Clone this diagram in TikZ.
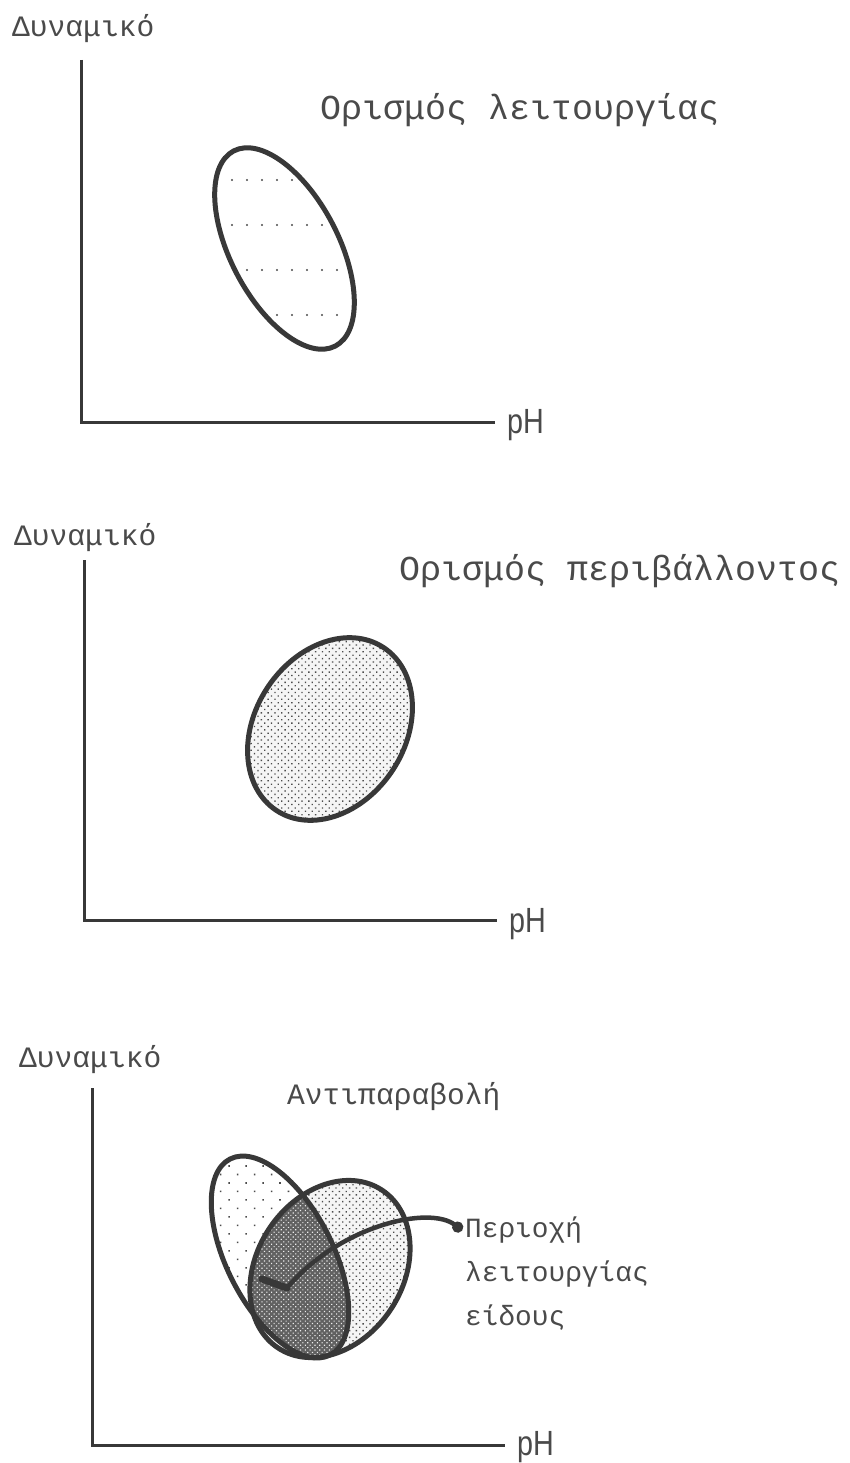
\documentclass[tikz,border=0pt]{standalone}
\usepackage{fontspec}
\newfontfamily\grfont{Liberation Mono}
\newfontfamily\phfont{Liberation Sans}
\usetikzlibrary{patterns.meta,arrows.meta}
\definecolor{ink}{HTML}{383838}
\definecolor{txt}{HTML}{4A4A4A}
\tikzset{
  axisline/.style={draw=ink, line width=3pt},
  outline/.style={draw=ink, line width=5pt},
  ylab/.style={anchor=base west, inner sep=0pt, text=txt, font=\grfont\fontsize{29.6}{32}\selectfont},
  ttl/.style={anchor=base west, inner sep=0pt, text=txt, font=\grfont\fontsize{35}{38}\selectfont},
  ttlsmall/.style={anchor=base west, inner sep=0pt, text=txt, font=\grfont\fontsize{29.6}{32}\selectfont},
  lab/.style={anchor=base west, inner sep=0pt, text=txt, font=\grfont\fontsize{27.8}{30}\selectfont},
  phlab/.style={anchor=base west, inner sep=0pt, text=txt, font=\phfont\fontsize{35}{38}\selectfont},
  densedots/.style={pattern={Dots[distance=4.8pt,radius=0.95pt,angle=45]}, pattern color=gray!60!black},
  sparsedots/.style={pattern={Dots[distance=12pt,radius=1.1pt,angle=45]}, pattern color=gray!60!black},
  darkdots/.style={pattern={Dots[distance=3.4pt,radius=0.8pt,angle=45]}, pattern color=white!85!gray},
  conn/.style={draw=ink, line width=4.5pt, line cap=round, line join=round},
}
\begin{document}
\begin{tikzpicture}[x=1pt,y=-1pt]
\useasboundingbox (0,0) rectangle (850,1463);
\fill[white] (0,0) rectangle (850,1463);

% ---------- Panel 1 ----------
\node[ylab] (d1) at (12,37) {Δυναμικό};
\node[ttl] (t1) at (320,120) {Ορισμός λειτουργίας};
\coordinate (y1) at (81,60);
\coordinate (o1) at (81,422);
\coordinate (x1) at (495,422);
\draw[axisline] (y1) -- (o1) -- (x1);
\node[phlab] (p1) at (507,433) {\scalebox{0.82}[1]{pH}};
\begin{scope}
  \clip[rotate around={-62.5:(284.5,248.5)}] (284.5,248.5) ellipse [x radius=104, y radius=48];
  \foreach \r in {180,225,270,315}
    \foreach \c in {232,247,...,352}
      \fill[gray!60!black] (\c,\r) circle[radius=1.1pt];
\end{scope}
\draw[outline, rotate around={-62.5:(284.5,248.5)}] (284.5,248.5) ellipse [x radius=110, y radius=54];

% ---------- Panel 2 ----------
\node[ylab] (d2) at (14,545) {Δυναμικό};
\node[ttl] (t2) at (399,580) {Ορισμός περιβάλλοντος};
\coordinate (y2) at (84,560);
\coordinate (o2) at (84,920);
\coordinate (x2) at (497,920);
\draw[axisline] (y2) -- (o2) -- (x2);
\node[phlab] (p2) at (509,932) {\scalebox{0.82}[1]{pH}};
\path[fill=gray!8, rotate around={56.7:(330,729)}] (330,729) ellipse [x radius=97.5, y radius=75];
\path[densedots, rotate around={56.7:(330,729)}] (330,729) ellipse [x radius=97.5, y radius=75];
\draw[outline, rotate around={56.7:(330,729)}] (330,729) ellipse [x radius=97.5, y radius=75];

% ---------- Panel 3 ----------
\node[ylab] (d3) at (19,1067) {Δυναμικό};
\node[ttlsmall] (t3) at (287,1104) {Αντιπαραβολή};
\coordinate (y3) at (92,1088);
\coordinate (o3) at (92,1445);
\coordinate (x3) at (505,1445);
\draw[axisline] (y3) -- (o3) -- (x3);
\node[phlab] (p3) at (517,1455) {\scalebox{0.82}[1]{pH}};

% left ellipse region (sparse dots)
\path[fill=white, rotate around={-63:(280,1257)}] (280,1257) ellipse [x radius=110, y radius=53];
\path[sparsedots, rotate around={-63:(280,1257)}] (280,1257) ellipse [x radius=110, y radius=53];
% right ellipse region (dense dots)
\path[fill=gray!8, rotate around={56.7:(330,1269)}] (330,1269) ellipse [x radius=94.5, y radius=73];
\path[densedots, rotate around={56.7:(330,1269)}] (330,1269) ellipse [x radius=94.5, y radius=73];
% intersection (dark)
\begin{scope}
  \clip[rotate around={-63:(280,1257)}] (280,1257) ellipse [x radius=110, y radius=53];
  \path[fill=black!62, rotate around={56.7:(330,1269)}] (330,1269) ellipse [x radius=94.5, y radius=73];
  \path[darkdots, rotate around={56.7:(330,1269)}] (330,1269) ellipse [x radius=94.5, y radius=73];
\end{scope}
\draw[outline, rotate around={-63:(280,1257)}] (280,1257) ellipse [x radius=110, y radius=53];
\draw[outline, rotate around={56.7:(330,1269)}] (330,1269) ellipse [x radius=94.5, y radius=73];

\node[lab] (l1) at (465,1237) {Περιοχή};
\node[lab] (l2) at (465,1281) {λειτουργίας};
\node[lab] (l3) at (465,1325) {είδους};

\coordinate (knee) at (287,1288);
\coordinate (tip) at (262,1279);
\draw[conn, {Circle[length=11pt]}-] ([xshift=-3pt,yshift=-1pt]l1.west) .. controls (430,1205) and (340,1225) .. (knee);
\draw[conn, line width=7pt] (knee) -- (tip);
\end{tikzpicture}
\end{document}
